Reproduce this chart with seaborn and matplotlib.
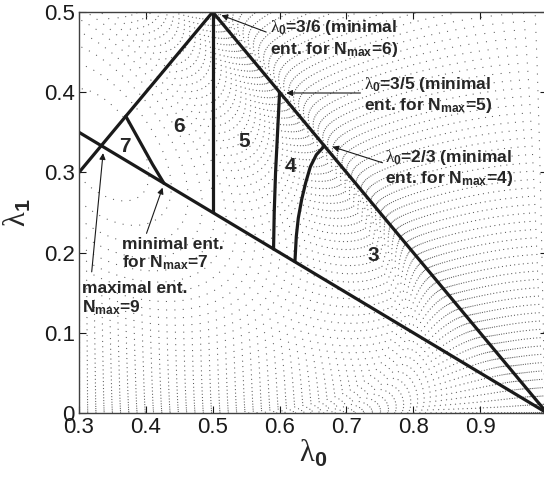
import numpy as np
import pandas as pd
import matplotlib
matplotlib.use('Agg')
import matplotlib.pyplot as plt
import seaborn as sns

# ---------------- data ----------------
# straight boundaries (lambda0, lambda1)
line_sum_l0 = [0.5, 1.0]      # lambda0 + lambda1 = 1
line_sum_l1 = [0.5, 0.0]
line_half_l0 = [0.3, 1.0]     # lambda0 + 2 lambda1 = 1
line_half_l1 = [0.35, 0.0]
line_diag_l0 = [0.3, 0.5]     # lambda1 = lambda0
line_diag_l1 = [0.3, 0.5]
line_n6_l0 = [0.5, 0.5]       # lambda0 = 3/6
line_n6_l1 = [0.25, 0.5]

# curved boundaries
curve_n5_l0 = [0.600, 0.597, 0.594, 0.592, 0.591]
curve_n5_l1 = [0.400, 0.350, 0.300, 0.250, 0.2045]
curve_n4_l0 = [0.667, 0.655, 0.646, 0.639, 0.633, 0.628, 0.625, 0.623]
curve_n4_l1 = [0.333, 0.322, 0.307, 0.287, 0.266, 0.243, 0.220, 0.189]
curve_n7_l0 = [0.370, 0.390, 0.410, 0.427]
curve_n7_l1 = [0.370, 0.340, 0.310, 0.2865]

# region numbers (N_max)
region_labels = ['3', '4', '5', '6', '7']
region_l0 = [0.740, 0.617, 0.547, 0.450, 0.368]
region_l1 = [0.197, 0.307, 0.338, 0.357, 0.332]

# annotations: text, text position, arrow tail, arrow tip
note_texts = [
    '$\\mathsf{\\lambda}_{0}$=3/6 (minimal\nent. for $\\mathrm{N}_{\\mathrm{max}}$=6)',
    '$\\mathsf{\\lambda}_{0}$=3/5 (minimal\nent. for $\\mathrm{N}_{\\mathrm{max}}$=5)',
    '$\\mathsf{\\lambda}_{0}$=2/3 (minimal\nent. for $\\mathrm{N}_{\\mathrm{max}}$=4)',
    'minimal ent.\nfor $\\mathrm{N}_{\\mathrm{max}}$=7',
    'maximal ent.\n$\\mathrm{N}_{\\mathrm{max}}$=9',
]
note_l0 = [0.585, 0.726, 0.758, 0.365, 0.305]
note_l1 = [0.492, 0.421, 0.330, 0.220, 0.164]
tail_l0 = [0.580, 0.721, 0.754, 0.401, 0.319]
tail_l1 = [0.475, 0.399, 0.312, 0.224, 0.176]
tip_l0 = [0.513, 0.610, 0.679, 0.425, 0.336]
tip_l1 = [0.496, 0.399, 0.332, 0.281, 0.324]

# ---------------- style ----------------
sns.set_theme(style='ticks')
plt.rcParams['font.family'] = ['Liberation Sans', 'DejaVu Sans']
plt.rcParams['mathtext.fontset'] = 'custom'
plt.rcParams['mathtext.rm'] = 'Liberation Sans:bold'
plt.rcParams['mathtext.bf'] = 'Liberation Sans:bold'
plt.rcParams['mathtext.it'] = 'Liberation Sans:bold'
plt.rcParams['mathtext.sf'] = 'Liberation Serif'
plt.rcParams['mathtext.default'] = 'rm'

fig = plt.figure(figsize=(5.44, 4.8), dpi=100)
ax = fig.add_axes([79 / 544, 67 / 480, 468 / 544, 401 / 480])

# background dotted contours: entanglement entropy of (l0, l1, 1-l0-l1),
# real part taken where the third weight goes negative
g0, g1 = np.meshgrid(np.linspace(0.3, 1.0, 600), np.linspace(0.0, 0.5, 450))
g2 = 1 - g0 - g1
ent = -g0 * np.log(g0) - g1 * np.log(g1 + 1e-12) - g2 * np.log(np.abs(g2) + 1e-12)
step = 0.0125
cs = ax.contour(g0, g1, ent, levels=np.arange(-0.4, 1.0986, step),
                colors='0.35', linewidths=0.75)
cs.set_linestyle((0, (1, 7)))

# boundaries
segs = []
for k, (xs, ys) in enumerate([(line_sum_l0, line_sum_l1), (line_half_l0, line_half_l1),
                              (line_diag_l0, line_diag_l1), (line_n6_l0, line_n6_l1),
                              (curve_n5_l0, curve_n5_l1), (curve_n4_l0, curve_n4_l1),
                              (curve_n7_l0, curve_n7_l1)]):
    segs.append(pd.DataFrame({'l0': xs, 'l1': ys, 'seg': k}))
df = pd.concat(segs, ignore_index=True)
sns.lineplot(data=df, x='l0', y='l1', units='seg', estimator=None, sort=False,
             color='k', lw=2.3, ax=ax, legend=False)

for lab, x, y in zip(region_labels, region_l0, region_l1):
    ax.text(x, y, lab, fontsize=15, fontweight='bold', ha='center', va='center')

for t, x, y in zip(note_texts, note_l0, note_l1):
    ax.text(x, y, t, fontsize=12.5, fontweight='bold', ha='left', va='top', linespacing=1.15)
for x0, y0, x1, y1 in zip(tail_l0, tail_l1, tip_l0, tip_l1):
    ax.annotate('', xy=(x1, y1), xytext=(x0, y0),
                arrowprops=dict(arrowstyle='-|>', lw=0.8, color='k',
                                mutation_scale=9, shrinkA=0, shrinkB=0))

ax.set_xlim(0.3, 1.0)
ax.set_ylim(0, 0.5)
ax.set_xticks([0.3, 0.4, 0.5, 0.6, 0.7, 0.8, 0.9])
ax.set_xticklabels(['0.3', '0.4', '0.5', '0.6', '0.7', '0.8', '0.9'])
ax.set_yticks([0, 0.1, 0.2, 0.3, 0.4, 0.5])
ax.set_yticklabels(['0', '0.1', '0.2', '0.3', '0.4', '0.5'])
ax.tick_params(direction='in', top=True, right=True, labelsize=16, length=5,
               width=0.8, colors='k', pad=3)
for s in ax.spines.values():
    s.set_visible(True)
    s.set_color('0.25')
    s.set_linewidth(1.0)
ax.set_xlabel('$\\mathsf{\\lambda}_{0}$', fontsize=22, labelpad=0)
ax.set_ylabel('$\\mathsf{\\lambda}_{1}$', fontsize=22, labelpad=8)

fig.savefig('out.png', dpi=100)
